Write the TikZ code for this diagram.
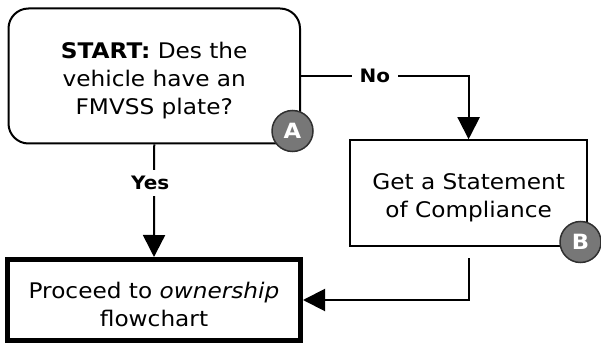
\documentclass[tikz,border=0pt]{standalone}
\usepackage{fontspec}
\setmainfont[FakeStretch=1.08]{DejaVu Sans}
\usetikzlibrary{arrows.meta}

\newcommand\boxfont{\fontsize{21.5}{28}\selectfont}
\newcommand\labfont{\fontsize{18.5}{20}\selectfont\bfseries}
\newcommand\tagfont{\fontsize{21}{21}\selectfont\bfseries}
\newcommand\lowstrut{\rule{0pt}{25pt}}
\definecolor{taggray}{HTML}{777777}
\definecolor{tagedge}{HTML}{303030}

\begin{document}
\begin{tikzpicture}[x=1pt,y=-1pt]
\tikzstyle{every node}+=[inner sep=0pt]
\tikzstyle{conn}=[line width=2pt, -{Triangle[length=22pt,width=22pt]}]
\tikzstyle{lab}=[fill=white, inner xsep=8pt, inner ysep=6pt, font=\labfont]
\tikzstyle{tag}=[circle, draw=tagedge, line width=1.5pt, fill=taggray, minimum size=41pt, text=white, font=\tagfont]
\useasboundingbox (0,0) rectangle (601,344);
% boxes
\node [draw, line width=2pt, rounded corners=20pt, minimum width=291.5pt, minimum height=135pt, align=center, font=\boxfont] (start) at (154.25,76) {\lowstrut\textbf{START:} Des the\\vehicle have an\\FMVSS plate?};
\node [draw, line width=1.5pt, minimum width=237pt, minimum height=106pt, align=center, font=\boxfont] (soc) at (468.6,193) {\lowstrut Get a Statement\\of Compliance};
\node [draw, line width=5pt, minimum width=293pt, minimum height=81pt, align=center, font=\boxfont] (owner) at (154,300) {\lowstrut Proceed to \textit{ownership}\\flowchart};
% tags
\node [tag] (tagA) at (292.5,131) {A};
\node [tag] (tagB) at (580.5,242) {B};
% connectors
\coordinate (socout) at (468.6,258);
\draw [conn] (start.east) -| node [lab, pos=0.22] {No} (soc.north);
\draw [conn] (start.south) -- node [lab, pos=0.34, xshift=-4pt] {Yes} (owner.north);
\draw [conn] (socout) |- (owner.east);
\end{tikzpicture}
\end{document}
